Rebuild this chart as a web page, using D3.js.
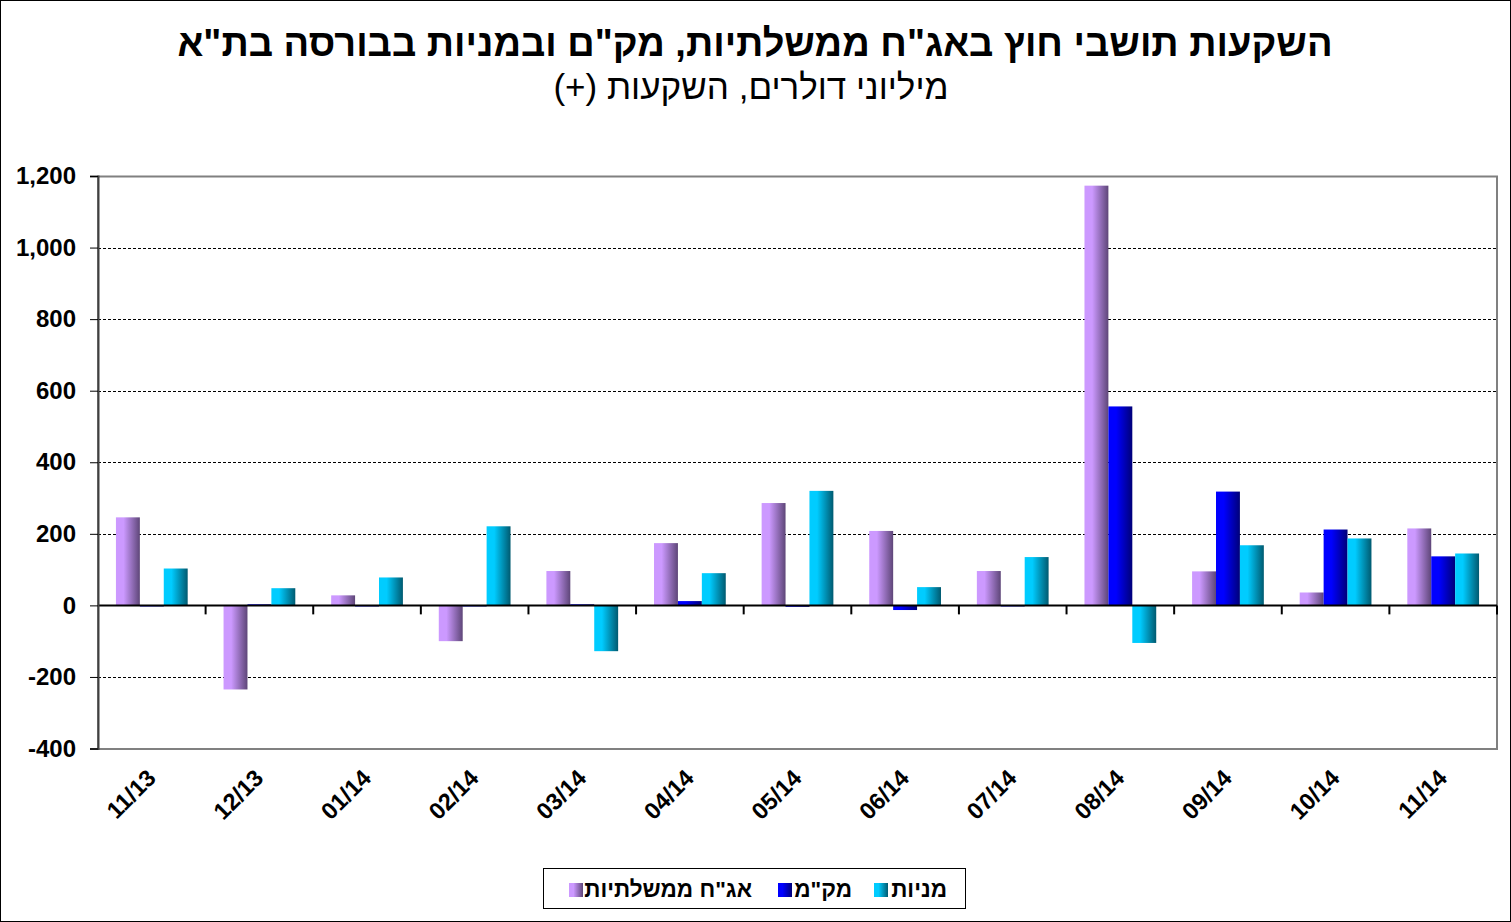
<!DOCTYPE html>
<html><head><meta charset="utf-8">
<script src="https://cdn.jsdelivr.net/npm/d3@7"></script>
<style>
html,body{margin:0;padding:0;background:#fff;}
svg{display:block;font-family:"Liberation Sans",Arial,sans-serif;}
</style></head>
<body>
<svg id="c" width="1511" height="922"></svg>
<script>
const categories = ["11/13","12/13","01/14","02/14","03/14","04/14","05/14","06/14","07/14","08/14","09/14","10/14","11/14"];
const seriesNames = ["אג\"ח ממשלתיות","מק\"מ","מניות"];
const govBonds = [246,-235,28,-100,96,174,286,208,96,1173,95,36,215];
const makam    = [-3,3,-3,-3,3,12,-4,-13,-3,556,318,212,137];
const stocks   = [103,48,78,221,-128,90,320,51,135,-105,168,187,145];
const yTicks = [-400,-200,0,200,400,600,800,1000,1200];
const titleText = "השקעות תושבי חוץ באג\"ח ממשלתיות, מק\"ם ובמניות בבורסה בת\"א";
const subtitleText = "מיליוני דולרים, השקעות (+)";

const seriesData = [govBonds, makam, stocks];
const gradStops = [["#cc99ff","#5e4678"],["#0000ff","#000078"],["#00ccff","#005a70"]];

const svg = d3.select("#c");
svg.append("rect").attr("x",0.5).attr("y",0.5).attr("width",1510).attr("height",921)
  .attr("fill","#fff").attr("stroke","#000").attr("stroke-width",1);

const defs = svg.append("defs");
gradStops.forEach((g,i)=>{
  const lg = defs.append("linearGradient").attr("id","g"+i).attr("x1","0").attr("x2","1").attr("y1","0").attr("y2","0");
  lg.append("stop").attr("offset","0%").attr("stop-color",g[0]);
  lg.append("stop").attr("offset","32%").attr("stop-color",g[0]);
  lg.append("stop").attr("offset","100%").attr("stop-color",g[1]);
});

const L=98, R=1497, T=176, B=748.5;
const x0 = d3.scaleBand().domain(categories).range([L,R]).padding(0);
const bw = x0.bandwidth();
const x1 = d3.scaleBand().domain([0,1,2]).range([bw/6, bw*5/6]).padding(0);
const y = d3.scaleLinear().domain([-400,1200]).range([B,T]);

// gridlines
svg.append("g").selectAll("line").data(yTicks.filter(v=>v!==0 && v!==1200 && v!==-400)).join("line")
  .attr("x1",L).attr("x2",R).attr("y1",d=>Math.round(y(d))+0.5).attr("y2",d=>Math.round(y(d))+0.5)
  .attr("stroke","#000").attr("stroke-width",1).attr("stroke-dasharray","3,2");

// plot border (gray)
svg.append("rect").attr("x",L).attr("y",Math.round(T)+0.5).attr("width",R-L).attr("height",B-T)
  .attr("fill","none").attr("stroke","#808080").attr("stroke-width",2);

// bars
const g = svg.append("g");
categories.forEach((c,ci)=>{
  seriesData.forEach((s,si)=>{
    const v = s[ci];
    g.append("rect")
      .attr("x", x0(c)+x1(si))
      .attr("width", x1.bandwidth())
      .attr("y", y(Math.max(0,v)))
      .attr("height", Math.max(1, Math.abs(y(v)-y(0))))
      .attr("fill","url(#g"+si+")");
  });
});

// zero line
svg.append("line").attr("x1",L).attr("x2",R).attr("y1",y(0)).attr("y2",y(0)).attr("stroke","#000").attr("stroke-width",2);

// x ticks
svg.append("g").selectAll("line").data(categories.slice(1).concat(["__end"])).join("line")
  .attr("x1",d=>d==="__end"?R:x0(d)).attr("x2",d=>d==="__end"?R:x0(d))
  .attr("y1",y(0)).attr("y2",y(0)+9).attr("stroke","#000").attr("stroke-width",2);

// y axis
const ya = d3.axisLeft(y).tickValues(yTicks).tickSize(8).tickFormat(d=>d3.format(",")(d).replace("\u2212","-"));
const yg = svg.append("g").attr("transform",`translate(${L},0)`).call(ya);
yg.select(".domain").attr("stroke","#404040").attr("stroke-width",2);
yg.selectAll(".tick line").attr("stroke","#000");
yg.selectAll(".tick text").attr("font-size",24).attr("font-weight","bold").attr("font-family","Liberation Sans, Arial, sans-serif").attr("x",-22).attr("fill","#000");

// x labels
svg.append("g").selectAll("text").data(categories).join("text")
  .attr("transform",d=>`translate(${x0(d)+bw/2+1},${775}) rotate(-45)`)
  .attr("text-anchor","end").attr("dominant-baseline","middle")
  .attr("font-size",23.5).attr("font-weight","bold").text(d=>d);

// title
svg.append("text").attr("x",755).attr("y",56).attr("text-anchor","middle").attr("direction","rtl")
  .attr("font-size",38).attr("font-weight","bold").text(titleText);
svg.append("text").attr("x",751).attr("y",99).attr("text-anchor","middle").attr("direction","rtl")
  .attr("font-size",35).text(subtitleText);

// legend
const lx=543.5, ly=868.5, lw=422, lh=40;
svg.append("rect").attr("x",lx).attr("y",ly).attr("width",lw).attr("height",lh).attr("fill","#fff").attr("stroke","#000").attr("stroke-width",1);
const legItems = [
  {si:0, sx:569, tx:752},
  {si:1, sx:778, tx:852},
  {si:2, sx:874, tx:947}
];
legItems.forEach(it=>{
  svg.append("rect").attr("x",it.sx).attr("y",883).attr("width",14).attr("height",14).attr("fill","url(#g"+it.si+")");
  svg.append("text").attr("x",it.tx).attr("y",897).attr("text-anchor","start").attr("direction","rtl")
    .attr("font-size",22.5).attr("font-weight","bold").text(seriesNames[it.si]);
});
</script>
</body></html>
